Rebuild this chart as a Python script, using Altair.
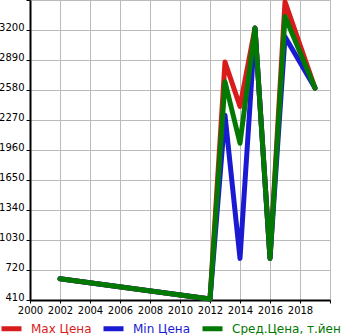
import altair as alt
import pandas as pd

years = [2002, 2012, 2013, 2014, 2015, 2016, 2017, 2019]
max_price = [630, 420, 2870, 2410, 3220, 840, 3490, 2600]
min_price = [630, 420, 2320, 840, 3220, 840, 3130, 2600]
avg_price = [630, 420, 2665, 2030, 3220, 840, 3340, 2600]

series = ["Max Цена", "Min Цена", "Сред.Цена, т.йен"]
colors = ["#d81c1c", "#1a1ad2", "#037803"]
y_ticks = [410, 720, 1030, 1340, 1650, 1960, 2270, 2580, 2890, 3200, 3510]
x_ticks = list(range(2000, 2021, 2))

rows = []
for name, vals in zip(series, [max_price, min_price, avg_price]):
    for yr, v in zip(years, vals):
        rows.append({"year": yr, "value": v, "series": name, "s": series.index(name)})
df = pd.DataFrame(rows)

label_color_expr = (
    f"datum.value == '{series[0]}' ? '{colors[0]}' : "
    f"datum.value == '{series[1]}' ? '{colors[1]}' : '{colors[2]}'"
)

chart = alt.Chart(df).mark_line(strokeWidth=5, strokeCap="round", strokeJoin="round").encode(
    x=alt.X("year:Q", scale=alt.Scale(domain=[2000, 2020], nice=False, zero=False),
            axis=alt.Axis(values=x_ticks, title=None, format="d",
                          labelExpr="datum.value < 2020 ? datum.value : ''",
                          tickSize=3, labelPadding=2, labelFontSize=10,
                          labelFont="DejaVu Sans", labelColor="#000",
                          domainColor="#000", domainWidth=2, tickColor="#000",
                          gridColor="#bbbbbb", gridWidth=1, labelFlush=False)),
    y=alt.Y("value:Q", scale=alt.Scale(domain=[410, 3510], nice=False, zero=False),
            axis=alt.Axis(values=y_ticks, title=None, format="d",
                          labelExpr="datum.value < 3500 ? datum.value : ''",
                          tickSize=4, labelPadding=2, labelFontSize=10,
                          labelFont="DejaVu Sans", labelColor="#000",
                          labelBaseline="alphabetic",
                          domainColor="#000", domainWidth=2, tickColor="#000",
                          gridColor="#bbbbbb", gridWidth=1, labelFlush=False)),
    color=alt.Color("series:N", scale=alt.Scale(domain=series, range=colors),
                    legend=alt.Legend(title=None, orient="none", direction="horizontal",
                                      legendX=-31, legendY=316, padding=0,
                                      symbolType="stroke", symbolSize=400,
                                      symbolStrokeWidth=5, labelFontSize=12,
                                      labelFont="DejaVu Sans", labelOffset=7,
                                      columnPadding=1, labelLimit=200,
                                      labelColor=alt.ExprRef(label_color_expr))),
    order=alt.Order("s:Q"),
    detail="series:N",
).properties(
    width=300, height=300,
    autosize=alt.AutoSizeParams(type="none"),
    padding={"left": 30, "top": 0, "right": 15, "bottom": 35},
).configure_view(fill="#f7f7f7", stroke=None).configure(background="white")

chart.save("out.html", embed_options={"renderer": "svg", "actions": False})
